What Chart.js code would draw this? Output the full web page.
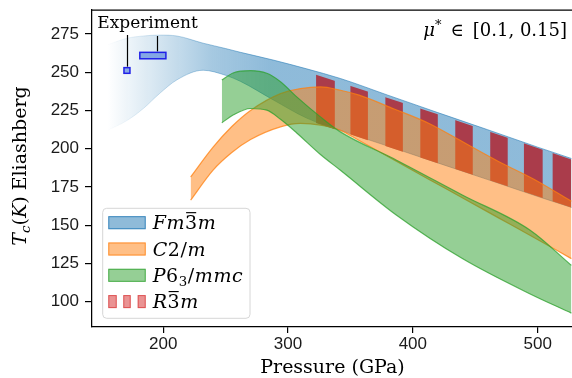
<!DOCTYPE html>
<html>
<head>
<meta charset="utf-8">
<script src="https://cdn.jsdelivr.net/npm/chart.js@4.4.0/dist/chart.umd.min.js"></script>
<style>
  html, body { margin: 0; padding: 0; background: #fff; }
  #wrap { width: 572px; height: 378px; }
</style>
</head>
<body>
<div id="wrap"><canvas id="canvas"></canvas></div>
<script>
// axis ticks
const xTicks = [200, 300, 400, 500];
const yTicks = [100, 125, 150, 175, 200, 225, 250, 275];

// Fm-3m band (blue)
const bluePressure = [155, 171, 184, 197, 211, 232, 250, 262, 288, 315, 342, 380, 420, 460, 500, 527];
const blueUpper    = [267.8, 272.2, 273.7, 274.3, 273.7, 269.0, 265.5, 263.0, 258.0, 252.2, 245.9, 235.0, 223.6, 212.4, 201.0, 193.6];
const blueLower    = [211.8, 218.4, 226.2, 236.0, 245.0, 251.3, 248.0, 244.0, 232.0, 220.0, 212.0, 201.7, 190.7, 179.8, 168.8, 161.6];

// C2/m band (orange)
const orangePressure = [222, 240, 255, 270, 294, 310, 326, 342, 357, 385, 413, 441, 469, 497, 527];
const orangeUpper    = [181.5, 201, 214.5, 225, 236, 239.3, 240.4, 238.2, 235, 226, 216.5, 204, 191.5, 180, 165.6];
const orangeLower    = [166.3, 186, 197.5, 206, 214.3, 216.5, 215.4, 212, 205.3, 192.6, 179.9, 167.3, 154.6, 141.9, 128.1];

// P6_3/mmc band (green)
const greenPressure = [247, 256, 270, 283, 294, 307, 326, 342, 387, 440, 494, 527];
const greenUpper    = [244.9, 249.5, 251, 249.3, 243.8, 233.9, 220.8, 211, 192.5, 169.6, 146.7, 123.7];
const greenLower    = [216.9, 222, 226.3, 225.2, 219.2, 210.3, 196.2, 185.9, 156.5, 128, 105, 92.5];

// R-3m band (red stripes)
const r3mPressure = [320, 420, 527];
const r3mUpper    = [249, 222.5, 193];
const r3mLower    = [217.5, 190.5, 161.6];
const r3mStripes  = [[322.5, 337.5], [350, 364], [378, 392], [406, 420], [434, 448], [462, 476], [489, 504], [512, 527.5]];

// experiment boxes
const expPmin = [168.6, 181.3];
const expPmax = [173.4, 202.2];
const expTmin = [249.3, 258.8];
const expTmax = [253.0, 263.0];
const expLeaderP = [171, 195];

const legendLabels = ['Fm3\u0304m', 'C2/m', 'P6\u2083/mmc', 'R3\u0304m'];

const SERIF = '"DejaVu Serif", serif';

function pts(P, T) {
  return P.map((p, i) => ({x: p, y: T[i]}));
}

function blueFill(a) {
  return (context) => {
    const chart = context.chart;
    const {ctx, chartArea, scales} = chart;
    if (!chartArea) return 'rgba(31,119,180,' + a + ')';
    const x0 = scales.x.getPixelForValue(155);
    const x1 = scales.x.getPixelForValue(285);
    const g = ctx.createLinearGradient(x0, 0, x1, 0);
    g.addColorStop(0, 'rgba(31,119,180,0)');
    g.addColorStop(0.35, 'rgba(31,119,180,' + (a * 0.42) + ')');
    g.addColorStop(0.65, 'rgba(31,119,180,' + (a * 0.8) + ')');
    g.addColorStop(1, 'rgba(31,119,180,' + a + ')');
    return g;
  };
}

function stripeFill(context) {
  const chart = context.chart;
  const {chartArea, scales} = chart;
  if (!chartArea) return 'rgba(0,0,0,0)';
  const cv = document.createElement('canvas');
  cv.width = chart.width;
  cv.height = chart.height;
  const c = cv.getContext('2d');
  c.fillStyle = 'rgb(170,60,75)';
  r3mStripes.forEach(([a, b]) => {
    const xa = scales.x.getPixelForValue(a);
    const xb = scales.x.getPixelForValue(b);
    c.fillRect(xa, 0, xb - xa, cv.height);
  });
  return chart.ctx.createPattern(cv, 'no-repeat');
}

function band(label, P, up, lo, order, fill, edgeUp, edgeLo, width) {
  const common = {
    pointRadius: 0,
    borderWidth: width,
    cubicInterpolationMode: 'monotone',
    order: order
  };
  return [
    Object.assign({label: label, data: pts(P, up), fill: '+1', backgroundColor: fill, borderColor: edgeUp}, common),
    Object.assign({label: label + ' low', data: pts(P, lo), fill: false, borderColor: edgeLo}, common)
  ];
}

const datasets = [].concat(
  band('Fm3m', bluePressure, blueUpper, blueLower, 4, blueFill(0.5), blueFill(0.55), blueFill(0.5), 1),
  band('R3m', r3mPressure, r3mUpper, r3mLower, 3, stripeFill, 'rgba(0,0,0,0)', 'rgba(0,0,0,0)', 0),
  band('C2/m', orangePressure, orangeUpper, orangeLower, 2, 'rgba(255,127,14,0.5)', 'rgba(255,127,14,0.75)', 'rgba(255,127,14,0.75)', 1.2),
  band('P63/mmc', greenPressure, greenUpper, greenLower, 1, 'rgba(44,160,44,0.5)', 'rgba(44,160,44,0.75)', 'rgba(44,160,44,0.75)', 1.2)
);

// draws text with italic letters, upright digits, subscript 3 and overbars
function drawRich(c, text, x, y, size) {
  let cx = x, lastX = x, lastW = 0;
  for (const ch of text) {
    if (ch === '\u0304') {
      c.fillRect(lastX + 1, y - size * 0.9, lastW - 2, Math.max(1, size * 0.06));
      continue;
    }
    let g = ch, dy = 0;
    if (ch === '\u2083') {
      g = '3'; dy = size * 0.22;
      c.font = (size * 0.7) + 'px ' + SERIF;
    } else if (/[A-Za-z]/.test(ch)) {
      c.font = 'italic ' + size + 'px ' + SERIF;
    } else {
      c.font = size + 'px ' + SERIF;
    }
    const w = c.measureText(g).width;
    c.fillText(g, cx, y + dy);
    lastX = cx; lastW = w; cx += w + 0.6;
  }
  return cx - x;
}

function drawPieces(c, pieces, x, y, measureOnly) {
  let cx = x;
  pieces.forEach((p) => {
    c.font = (p.it ? 'italic ' : '') + p.size + 'px ' + SERIF;
    if (!measureOnly) c.fillText(p.t, cx, y + (p.dy || 0));
    cx += c.measureText(p.t).width;
  });
  return cx - x;
}

const decor = {
  id: 'decor',
  afterDatasetsDraw(chart) {
    const {ctx, chartArea, scales} = chart;
    const xs = scales.x, ys = scales.y;
    ctx.save();

    // top spine
    ctx.strokeStyle = '#000';
    ctx.lineWidth = 1.25;
    ctx.beginPath();
    ctx.moveTo(chartArea.left, chartArea.top);
    ctx.lineTo(chartArea.right, chartArea.top);
    ctx.stroke();

    // experiment boxes
    for (let i = 0; i < expPmin.length; i++) {
      const x0 = xs.getPixelForValue(expPmin[i]);
      const x1 = xs.getPixelForValue(expPmax[i]);
      const y0 = ys.getPixelForValue(expTmax[i]);
      const y1 = ys.getPixelForValue(expTmin[i]);
      ctx.fillStyle = 'rgba(110,150,225,0.8)';
      ctx.fillRect(x0, y0, x1 - x0, y1 - y0);
      ctx.strokeStyle = '#2020e8';
      ctx.lineWidth = 1.5;
      ctx.strokeRect(x0, y0, x1 - x0, y1 - y0);
      // leader line up to the label
      const lx = Math.round(xs.getPixelForValue(expLeaderP[i])) + 0.5;
      ctx.strokeStyle = '#000';
      ctx.lineWidth = 1.2;
      ctx.beginPath();
      ctx.moveTo(lx, y0 - 1);
      ctx.lineTo(lx, i === 0 ? 35 : 36);
      ctx.stroke();
    }
    ctx.fillStyle = '#000';
    ctx.font = '17px ' + SERIF;
    ctx.textAlign = 'center';
    ctx.textBaseline = 'alphabetic';
    ctx.fillText('Experiment', 147.5, 27.5);

    // mu* annotation
    ctx.textAlign = 'left';
    const mu = [
      {t: '\u03bc', it: true, size: 18},
      {t: '*', size: 13, dy: -7},
      {t: '\u2002\u2208\u2002', size: 18},
      {t: '[0.1, 0.15]', size: 18}
    ];
    const mw = drawPieces(ctx, mu, 0, 0, true);
    drawPieces(ctx, mu, 567 - mw, 35.5, false);

    // legend
    const lx0 = 102.7, ly0 = 208.3, lw = 147.3, lh = 110;
    ctx.fillStyle = 'rgba(255,255,255,0.8)';
    ctx.strokeStyle = '#d6d6d6';
    ctx.lineWidth = 1;
    ctx.beginPath();
    ctx.roundRect(lx0, ly0, lw, lh, 4);
    ctx.fill();
    ctx.stroke();
    const patches = [
      ['rgba(31,119,180,0.5)', 'rgba(31,119,180,0.75)'],
      ['rgba(255,127,14,0.5)', 'rgba(255,127,14,0.75)'],
      ['rgba(44,160,44,0.5)', 'rgba(44,160,44,0.75)'],
      ['rgba(214,39,40,0.5)', 'rgba(214,39,40,0.6)']
    ];
    legendLabels.forEach((lab, i) => {
      const cy = 222.7 + i * 26.3;
      const [f, e] = patches[i];
      ctx.fillStyle = f;
      ctx.strokeStyle = e;
      ctx.lineWidth = 1;
      if (i === 3) {
        [[108.3, 8.4], [123.3, 7.4], [137.7, 8]].forEach(([bx, bw]) => {
          ctx.fillRect(bx, cy - 6.5, bw, 13);
          ctx.strokeRect(bx + 0.5, cy - 6, bw - 1, 12);
        });
      } else {
        ctx.fillRect(108.3, cy - 6.5, 37.4, 13);
        ctx.strokeRect(108.8, cy - 6, 36.4, 12);
      }
      ctx.fillStyle = '#000';
      drawRich(ctx, lab, 152.7, cy + 6.5, 19);
    });

    ctx.restore();
  },
  afterDraw(chart) {
    const ctx = chart.ctx;
    ctx.save();
    ctx.fillStyle = '#000';
    ctx.textBaseline = 'alphabetic';
    // x title
    ctx.font = '19px ' + SERIF;
    ctx.textAlign = 'center';
    ctx.fillText('Pressure (GPa)', 332.5, 373);
    // y title
    ctx.textAlign = 'left';
    const yt = [
      {t: 'T', it: true, size: 19},
      {t: 'c', it: true, size: 13.5, dy: 3.5},
      {t: '(', size: 19},
      {t: 'K', it: true, size: 19},
      {t: ')', size: 19},
      {t: ' Eliashberg', size: 19}
    ];
    const w = drawPieces(ctx, yt, 0, 0, true);
    ctx.translate(26, 166);
    ctx.rotate(-Math.PI / 2);
    drawPieces(ctx, yt, -w / 2, 0, false);
    ctx.restore();
  }
};

const tickFont = {family: '"Liberation Sans", Arial, sans-serif', size: 17};

new Chart(document.getElementById('canvas').getContext('2d'), {
  type: 'line',
  data: {datasets: datasets},
  options: {
    responsive: true,
    maintainAspectRatio: false,
    devicePixelRatio: 1,
    animation: false,
    layout: {padding: {top: 10, left: 0, right: 0, bottom: 0}},
    plugins: {
      legend: {display: false},
      tooltip: {enabled: false},
      filler: {propagate: false}
    },
    scales: {
      x: {
        type: 'linear',
        min: 143,
        max: 527.5,
        afterBuildTicks: (s) => { s.ticks = xTicks.map((v) => ({value: v})); },
        afterFit: (s) => { s.height = 51; s.paddingLeft = 0; s.paddingRight = 0; },
        ticks: {font: tickFont, color: '#1a1a1a', padding: 1, maxRotation: 0, autoSkip: false},
        grid: {drawOnChartArea: false, drawTicks: true, tickLength: 6, color: '#000', lineWidth: 1.2},
        border: {display: true, color: '#000', width: 1.25}
      },
      y: {
        type: 'linear',
        min: 83.4,
        max: 290.7,
        afterBuildTicks: (s) => { s.ticks = yTicks.map((v) => ({value: v})); },
        afterFit: (s) => { s.width = 92; s.paddingTop = 0; s.paddingBottom = 0; },
        ticks: {font: tickFont, color: '#1a1a1a', padding: 6, autoSkip: false},
        grid: {drawOnChartArea: false, drawTicks: true, tickLength: 7, color: '#000', lineWidth: 1.2},
        border: {display: true, color: '#000', width: 1.25}
      }
    }
  },
  plugins: [decor]
});
</script>
</body>
</html>
